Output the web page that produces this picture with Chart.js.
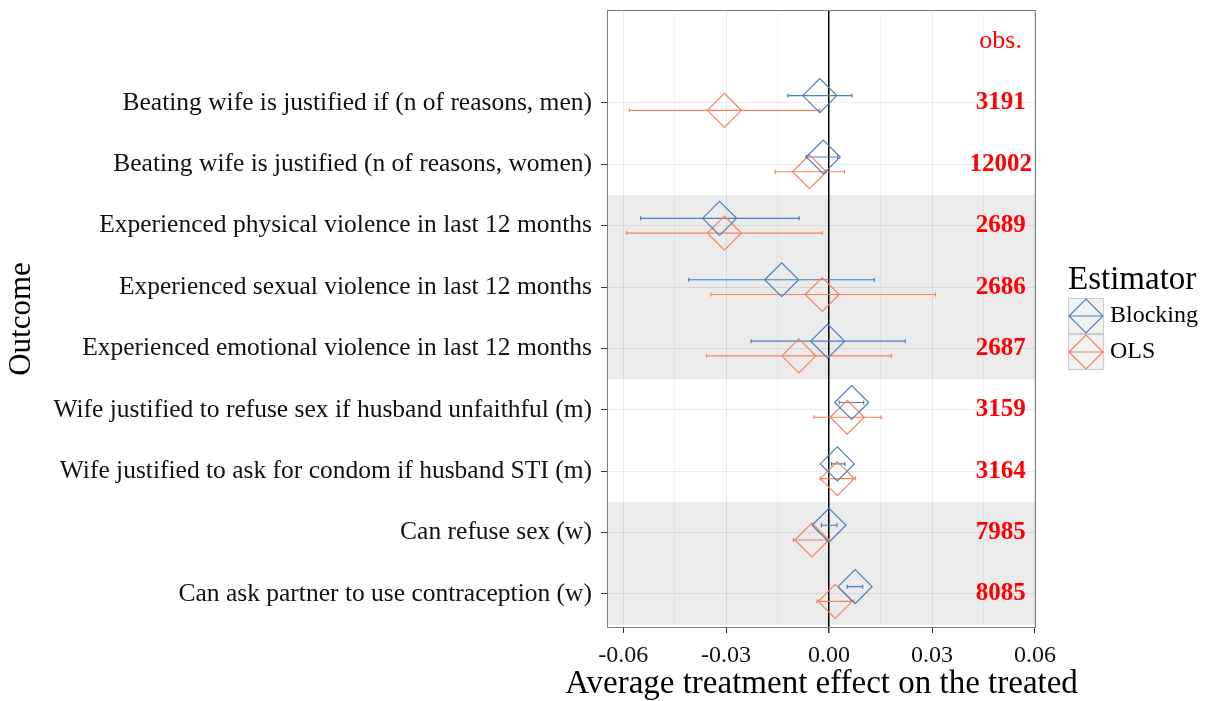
<!DOCTYPE html>
<html>
<head>
<meta charset="utf-8">
<script src="https://cdn.jsdelivr.net/npm/chart.js@4/dist/chart.umd.min.js"></script>
<style>
  html, body { margin: 0; padding: 0; background: #fff; }
</style>
</head>
<body>
<canvas id="myChart" width="1208" height="701"></canvas>
<script>
// outcomes, top to bottom
const outcomes = [
  'Beating wife is justified if (n of reasons, men)',
  'Beating wife is justified (n of reasons, women)',
  'Experienced physical violence in last 12 months',
  'Experienced sexual violence in last 12 months',
  'Experienced emotional violence in last 12 months',
  'Wife justified to refuse sex if husband unfaithful (m)',
  'Wife justified to ask for condom if husband STI (m)',
  'Can refuse sex (w)',
  'Can ask partner to use contraception (w)'
];
const obs = [3191, 12002, 2689, 2686, 2687, 3159, 3164, 7985, 8085];

// Blocking estimator
const blockEst = [-0.0027, -0.0017, -0.0319, -0.0138, -0.0004, 0.0066, 0.0024, 0.0000, 0.0076];
const blockLo  = [-0.0120, -0.0067, -0.0549, -0.0409, -0.0227, 0.0030, 0.0007, -0.0022, 0.0053];
const blockHi  = [0.0067, 0.0025, -0.0087, 0.0132, 0.0222, 0.0101, 0.0046, 0.0023, 0.0098];

// OLS estimator
const olsEst = [-0.0305, -0.0057, -0.0305, -0.0020, -0.0088, 0.0053, 0.0024, -0.0050, 0.0018];
const olsLo  = [-0.0582, -0.0157, -0.0590, -0.0344, -0.0357, -0.0044, -0.0026, -0.0104, -0.0035];
const olsHi  = [-0.0028, 0.0045, -0.0020, 0.0310, 0.0182, 0.0152, 0.0077, 0.0001, 0.0073];

const xTicks = [-0.06, -0.03, 0, 0.03, 0.06];
const xTickLabels = ['-0.06', '-0.03', '0.00', '0.03', '0.06'];
const xMinorTicks = [-0.045, -0.015, 0.015, 0.045];

// row groups with grey background (1-based row numbers)
const shadedRows = [[3, 5], [8, 9]];
const obsX = 0.05;

const blue = '#4a7fb9';
const orange = '#f8825c';
const serif = '"Liberation Serif", "Times New Roman", serif';
const dodge = 0.12;

function isMajor(v) {
  return xTicks.some(t => Math.abs(t - v) < 1e-9);
}

const panelPlugin = {
  id: 'panel',
  beforeDraw(chart) {
    const { ctx, chartArea: a, scales: { y } } = chart;
    ctx.save();
    ctx.fillStyle = '#ebebeb';
    shadedRows.forEach(([r0, r1]) => {
      const top = y.getPixelForValue(r0 - 0.5);
      const bot = y.getPixelForValue(r1 + 0.5);
      ctx.fillRect(a.left, top, a.right - a.left, bot - top);
    });
    ctx.restore();
  },
  beforeDatasetsDraw(chart) {
    const { ctx, scales: { x } } = chart;
    ctx.save();
    chart.data.datasets.forEach((ds, i) => {
      const meta = chart.getDatasetMeta(i);
      ctx.strokeStyle = ds.borderColor;
      ctx.lineWidth = 1.2;
      meta.data.forEach((pt, j) => {
        const x0 = x.getPixelForValue(ds.lo[j]);
        const x1 = x.getPixelForValue(ds.hi[j]);
        const py = pt.y;
        ctx.beginPath();
        ctx.moveTo(x0, py); ctx.lineTo(x1, py);
        ctx.moveTo(x0, py - 2); ctx.lineTo(x0, py + 2);
        ctx.moveTo(x1, py - 2); ctx.lineTo(x1, py + 2);
        ctx.stroke();
      });
    });
    ctx.restore();
  },
  afterDraw(chart) {
    const { ctx, chartArea: a, scales: { x, y } } = chart;
    ctx.save();
    // obs column
    ctx.fillStyle = '#ff0000';
    ctx.textAlign = 'center';
    ctx.textBaseline = 'middle';
    ctx.font = '26px ' + serif;
    ctx.fillText('obs.', x.getPixelForValue(obsX), y.getPixelForValue(0));
    ctx.font = 'bold 25px ' + serif;
    obs.forEach((n, i) => {
      ctx.fillText(String(n), x.getPixelForValue(obsX), y.getPixelForValue(i + 1));
    });
    // panel border
    ctx.strokeStyle = '#7f7f7f';
    ctx.lineWidth = 1;
    ctx.strokeRect(a.left + 0.5, a.top + 0.5, a.right - a.left - 1, a.bottom - a.top - 1);
    // x axis title (wider than the panel, so drawn here)
    ctx.fillStyle = '#000';
    ctx.font = '33px ' + serif;
    ctx.fillText('Average treatment effect on the treated', (a.left + a.right) / 2, 684);
    // legend
    const lx = 1068;
    ctx.textAlign = 'left';
    ctx.font = '33px ' + serif;
    ctx.fillText('Estimator', lx, 280);
    chart.data.datasets.forEach((ds, i) => {
      const by = 298 + i * 36;
      ctx.fillStyle = '#f2f2f2';
      ctx.fillRect(lx, by, 36, 36);
      ctx.strokeStyle = '#cccccc';
      ctx.strokeRect(lx + 0.5, by + 0.5, 35, 35);
      const cx = lx + 18, cy = by + 18;
      ctx.strokeStyle = ds.borderColor;
      ctx.lineWidth = 1.2;
      ctx.beginPath();
      ctx.moveTo(cx - 17, cy); ctx.lineTo(cx, cy - 17); ctx.lineTo(cx + 17, cy); ctx.lineTo(cx, cy + 17);
      ctx.closePath();
      ctx.moveTo(cx - 17, cy); ctx.lineTo(cx + 17, cy);
      ctx.stroke();
      ctx.fillStyle = '#000';
      ctx.font = '24px ' + serif;
      ctx.fillText(ds.label, lx + 42, cy);
    });
    ctx.restore();
  }
};

const ctx = document.getElementById('myChart').getContext('2d');
const myChart = new Chart(ctx, {
  type: 'scatter',
  data: {
    datasets: [
      {
        label: 'Blocking',
        data: blockEst.map((v, i) => ({ x: v, y: i + 1 - dodge })),
        lo: blockLo, hi: blockHi,
        borderColor: blue,
        backgroundColor: 'transparent',
        borderWidth: 1.2,
        pointStyle: 'rectRot',
        pointRadius: 17,
        pointHoverRadius: 17
      },
      {
        label: 'OLS',
        data: olsEst.map((v, i) => ({ x: v, y: i + 1 + dodge })),
        lo: olsLo, hi: olsHi,
        borderColor: orange,
        backgroundColor: 'transparent',
        borderWidth: 1.2,
        pointStyle: 'rectRot',
        pointRadius: 17,
        pointHoverRadius: 17
      }
    ]
  },
  options: {
    responsive: false,
    animation: false,
    events: [],
    layout: { autoPadding: false, padding: { left: 0, right: 172, top: 10, bottom: 0 } },
    plugins: { legend: { display: false }, tooltip: { enabled: false } },
    scales: {
      x: {
        type: 'linear',
        min: -0.0647,
        max: 0.0603,
        afterBuildTicks: s => {
          s.ticks = [...xTicks, ...xMinorTicks].sort((a, b) => a - b).map(v => ({ value: v }));
        },
        afterFit: s => {
          s.height = 73;
          s.paddingLeft = 0; s.paddingRight = 0;
        },
        ticks: {
          autoSkip: false,
          maxRotation: 0,
          padding: 8,
          color: '#111',
          font: { family: serif, size: 24 },
          callback: v => {
            const k = xTicks.findIndex(t => Math.abs(t - v) < 1e-9);
            return k >= 0 ? xTickLabels[k] : '';
          }
        },
        grid: {
          color: c => c.tick && Math.abs(c.tick.value) < 1e-9 ? '#000' : (c.tick && isMajor(c.tick.value) ? 'rgba(0,0,0,0.08)' : 'rgba(0,0,0,0.035)'),
          lineWidth: c => c.tick && Math.abs(c.tick.value) < 1e-9 ? 1.5 : 1,
          tickColor: c => c.tick && isMajor(c.tick.value) ? '#333' : 'rgba(0,0,0,0)',
          tickLength: 5
        },
        border: { display: false }
      },
      y: {
        type: 'linear',
        reverse: true,
        min: -0.515,
        max: 9.554,
        afterBuildTicks: s => {
          s.ticks = outcomes.map((_, i) => ({ value: i + 1 }));
        },
        afterFit: s => {
          s.width = 607;
          s.paddingTop = 0; s.paddingBottom = 0;
        },
        ticks: {
          autoSkip: false,
          padding: 9,
          color: '#111',
          font: { family: serif, size: 25.5 },
          callback: (v, i) => outcomes[i]
        },
        grid: {
          color: 'rgba(0,0,0,0.08)',
          tickColor: '#333',
          tickLength: 6
        },
        border: { display: false },
        title: {
          display: true,
          text: 'Outcome',
          color: '#000',
          font: { family: serif, size: 31 },
          padding: { top: 3, bottom: 0 }
        }
      }
    }
  },
  plugins: [panelPlugin]
});
</script>
</body>
</html>
